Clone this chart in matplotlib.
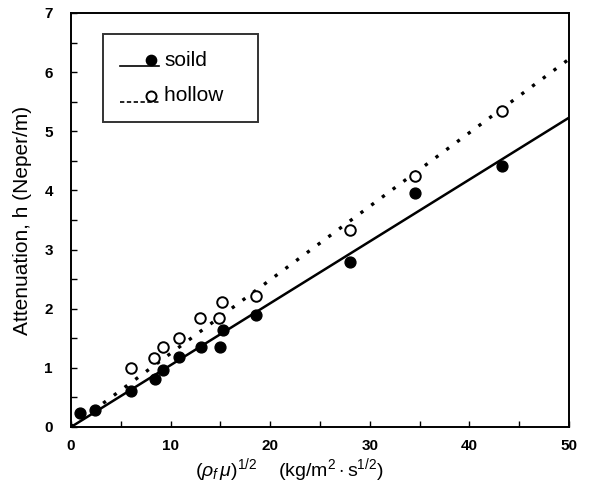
import matplotlib
matplotlib.use("Agg")
import matplotlib.pyplot as plt
from matplotlib.lines import Line2D
from matplotlib.legend_handler import HandlerBase

plt.rcParams['font.family'] = ['Liberation Sans', 'DejaVu Sans']
plt.rcParams['mathtext.fontset'] = 'custom'
plt.rcParams['mathtext.rm'] = 'Liberation Sans'
plt.rcParams['mathtext.it'] = 'Liberation Sans:italic'

# ---- data ----
solid_x = [0.9, 2.4, 6.0, 8.4, 9.2, 10.8, 13.1, 15.0, 15.3, 18.6, 28.0, 34.5, 43.3]
solid_y = [0.24, 0.28, 0.61, 0.82, 0.97, 1.18, 1.35, 1.36, 1.64, 1.89, 2.79, 3.95, 4.41]
hollow_x = [6.0, 8.3, 9.2, 10.8, 13.0, 14.9, 15.2, 18.6, 28.0, 34.5, 43.3]
hollow_y = [0.99, 1.16, 1.36, 1.50, 1.84, 1.84, 2.12, 2.21, 3.33, 4.24, 5.34]
fit_x = [0, 50]
solid_fit = [0.0, 5.23]
hollow_fit = [0.0, 6.22]
x_ticks = [0, 10, 20, 30, 40, 50]
y_ticks = [0, 1, 2, 3, 4, 5, 6, 7]
series_labels = ['soild', 'hollow']


class LineMarkerHandler(HandlerBase):
    def create_artists(self, legend, orig_handle, xdescent, ydescent,
                       width, height, fontsize, trans):
        line, mk = orig_handle
        x0 = -xdescent
        yl = -ydescent - 0.02 * height
        l = Line2D([x0, x0 + width], [yl, yl], color='black',
                   linestyle=line.get_linestyle(), linewidth=1.2)
        if line.get_linestyle() != '-':
            l.set_dashes([2.6, 1.5])
        m = Line2D([x0 + width - 0.4 * fontsize], [-ydescent + 0.38 * height],
                   marker='o', markersize=mk.get_markersize() * 0.95,
                   markerfacecolor=mk.get_markerfacecolor(),
                   markeredgecolor='black', markeredgewidth=mk.get_markeredgewidth(),
                   linestyle='none')
        l.set_transform(trans)
        m.set_transform(trans)
        return [l, m]


fig = plt.figure(figsize=(5.9, 4.97), dpi=100)
ax = fig.add_axes([71 / 590, (497 - 427) / 497, (569 - 71) / 590, (427 - 13) / 497])

l1, = ax.plot(fit_x, solid_fit, color='black', linewidth=1.8, solid_capstyle='butt')
l2, = ax.plot(fit_x, hollow_fit, color='black', linewidth=2.4,
              linestyle=(0, (1.0, 3.0)), dash_capstyle='butt')
m1, = ax.plot(solid_x, solid_y, linestyle='none', marker='o', markersize=7.8,
              markerfacecolor='black', markeredgecolor='black', clip_on=False, zorder=4)
m2, = ax.plot(hollow_x, hollow_y, linestyle='none', marker='o', markersize=7.6,
              markerfacecolor='white', markeredgecolor='black', markeredgewidth=1.4,
              clip_on=False, zorder=4)

ax.set_xlim(0, 50)
ax.set_ylim(0, 7)
ax.set_xticks(x_ticks)
ax.set_xticks([5, 15, 25, 35, 45], minor=True)
ax.set_yticks(y_ticks)
ax.set_yticks([0.5, 1.5, 2.5, 3.5, 4.5, 5.5, 6.5], minor=True)
ax.tick_params(which='both', direction='in', length=4.5, width=1.0,
               top=False, right=False, labelsize=11, pad=9)
ax.tick_params(axis='y', pad=13)
for lab in ax.get_xticklabels() + ax.get_yticklabels():
    lab.set_fontweight('bold')
for s in ax.spines.values():
    s.set_linewidth(1.4)

ax.set_ylabel('Attenuation, h (Neper/m)', fontsize=15, labelpad=9)
fig.text(289 / 590, 1 - 470 / 497,
         r'$(\rho_f\,\mu)^{1/2}$    (kg/m$^2\cdot$s$^{1/2}$)',
         fontsize=14, ha='center', va='center')

leg = ax.legend([(l1, m1), (l2, m2)], series_labels,
                handler_map={tuple: LineMarkerHandler()},
                loc='upper left', bbox_to_anchor=(0.064, 0.949),
                borderaxespad=0, fontsize=15, handlelength=1.9, handletextpad=0.25,
                labelspacing=0.8, borderpad=0.8, fancybox=False, frameon=True)
leg.get_frame().set_edgecolor('black')
leg.get_frame().set_linewidth(1.4)
# widen the frame on the right, as in the reference
leg._legend_box.align = 'left'
fig.canvas.draw()
bb = leg.get_window_extent()
leg.set_bbox_to_anchor((0.064, 0.949), transform=ax.transAxes)
leg.get_texts()[1].set_text(series_labels[1] + '   ')

fig.savefig('out.png', dpi=100)
